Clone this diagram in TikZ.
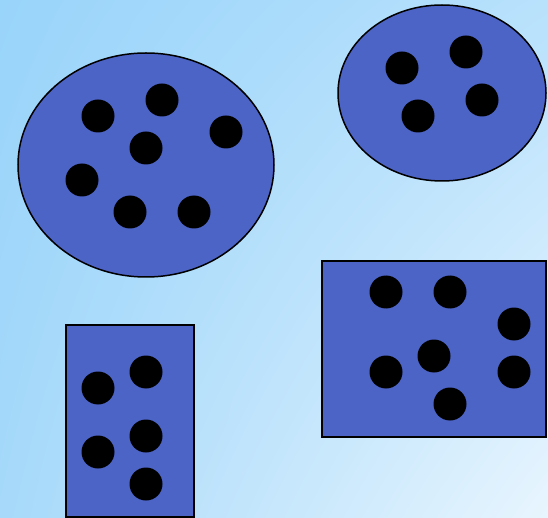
\documentclass[tikz,border=0pt]{standalone}
\usetikzlibrary{shapes.geometric,shadings}
\definecolor{bgA}{HTML}{99D4FA}
\definecolor{bgB}{HTML}{E8F5FE}
\definecolor{bgM}{HTML}{B8E1FC}
\definecolor{bgL}{HTML}{A6D9FA}
\definecolor{blob}{HTML}{4C64C6}
\begin{document}
\begin{tikzpicture}[x=1pt,y=-1pt,
  blobshape/.style={draw=black,line width=1.5pt,fill=blob,inner sep=0pt,outer sep=0pt},
  dot/.style={circle,fill=black,minimum size=33pt,inner sep=0pt}]
\useasboundingbox (0,0) rectangle (548,518);
\shade[upper left=bgA,upper right=bgM,lower left=bgL,lower right=bgB] (0,0) rectangle (548,518);
\node[blobshape,ellipse,minimum width=256pt,minimum height=224pt] (e1) at (146,165) {};
\node[blobshape,ellipse,minimum width=208pt,minimum height=176pt] (e2) at (442,93) {};
\node[blobshape,rectangle,minimum width=224pt,minimum height=176pt] (r1) at (434,349) {};
\node[blobshape,rectangle,minimum width=128pt,minimum height=192pt] (r2) at (130,421) {};
% dots in e1
\node[dot] (a1) at (98,116) {};
\node[dot] (a2) at (162,100) {};
\node[dot] (a3) at (226,132) {};
\node[dot] (a4) at (146,148) {};
\node[dot] (a5) at (82,180) {};
\node[dot] (a6) at (130,212) {};
\node[dot] (a7) at (194,212) {};
% dots in e2
\node[dot] (b1) at (402,68) {};
\node[dot] (b2) at (466,52) {};
\node[dot] (b3) at (418,116) {};
\node[dot] (b4) at (482,100) {};
% dots in r1
\node[dot] (c1) at (386,292) {};
\node[dot] (c2) at (450,292) {};
\node[dot] (c3) at (514,324) {};
\node[dot] (c4) at (434,356) {};
\node[dot] (c5) at (386,372) {};
\node[dot] (c6) at (514,372) {};
\node[dot] (c7) at (450,404) {};
% dots in r2
\node[dot] (d1) at (98,388) {};
\node[dot] (d2) at (146,372) {};
\node[dot] (d3) at (98,452) {};
\node[dot] (d4) at (146,436) {};
\node[dot] (d5) at (146,484) {};
\end{tikzpicture}
\end{document}
